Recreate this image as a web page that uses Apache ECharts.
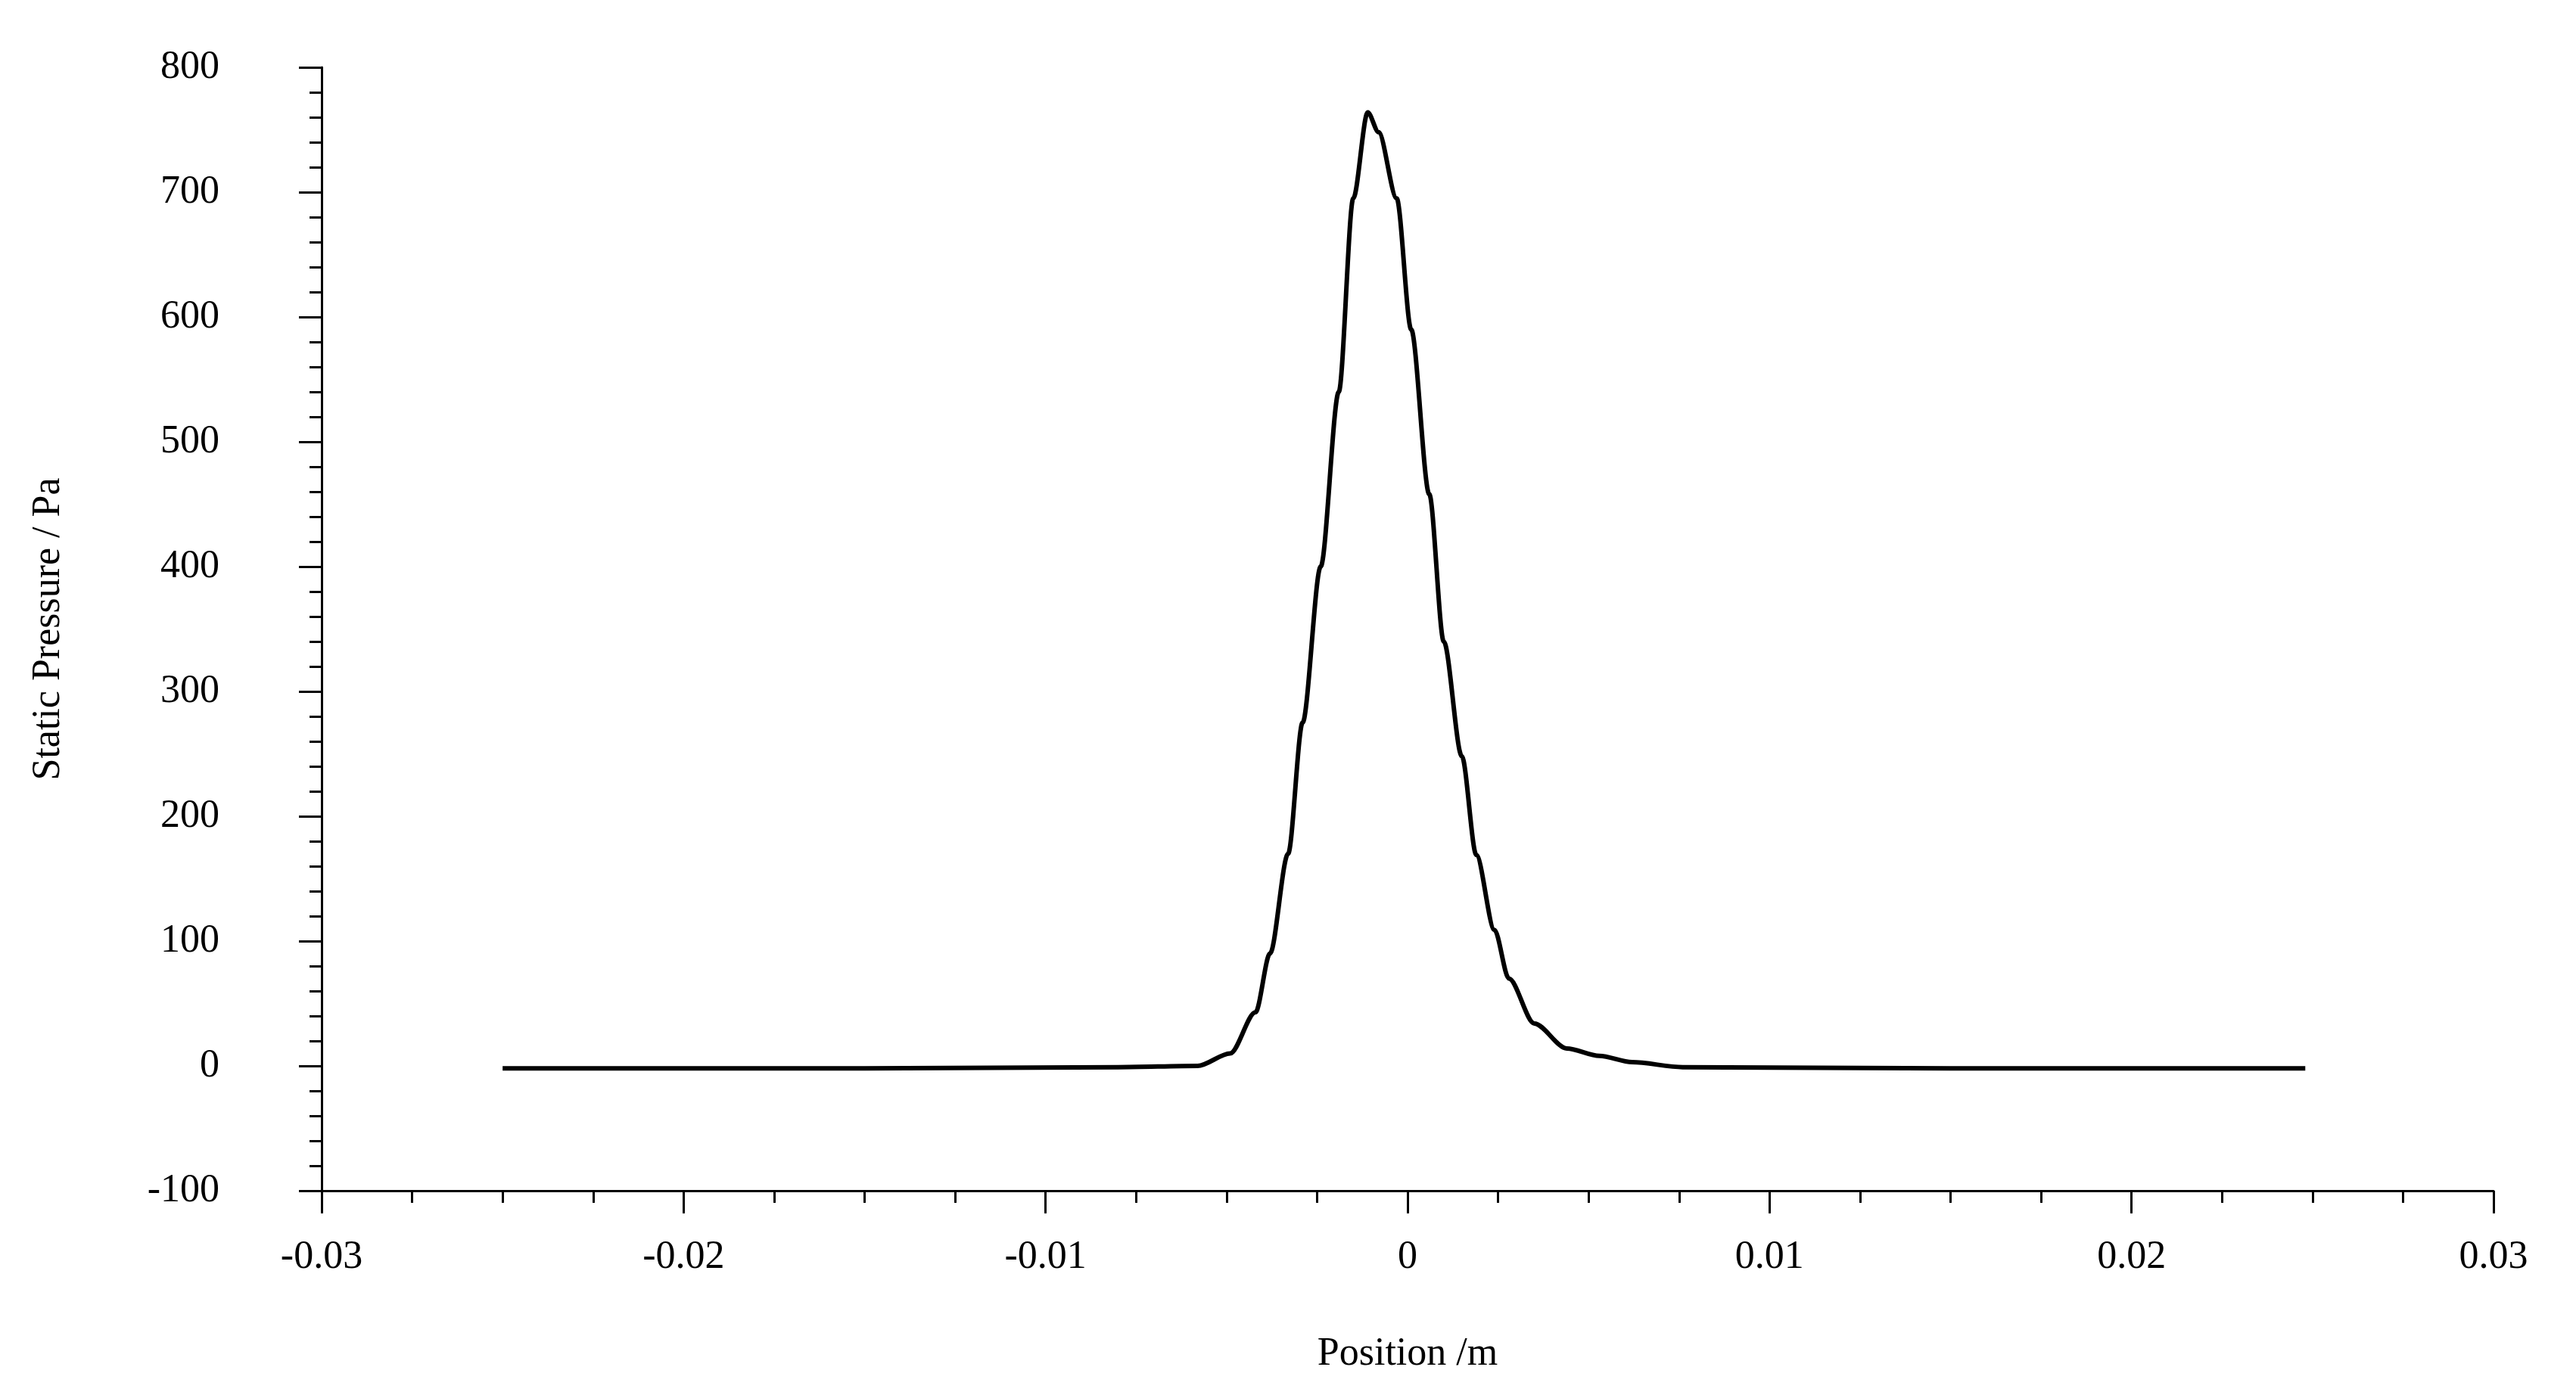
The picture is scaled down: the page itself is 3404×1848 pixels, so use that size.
<!DOCTYPE html>
<html>
<head>
<meta charset="utf-8">
<script src="https://cdn.jsdelivr.net/npm/echarts@6/dist/echarts.min.js"></script>
<style>html,body{margin:0;padding:0;background:#fff}#chart{width:3404px;height:1848px}</style>
</head>
<body>
<div id="chart"></div>
<script>
var positions = [-0.025, -0.015, -0.008, -0.0058, -0.0049, -0.0042, -0.0038, -0.0033, -0.0029, -0.0024,
    -0.0019, -0.0015, -0.0011, -0.0008, -0.0003, 0.0001, 0.0006, 0.001, 0.0015, 0.0019,
    0.0024, 0.0028, 0.0035, 0.0044, 0.0053, 0.0062, 0.0076, 0.015, 0.0248];
var pressures = [-2, -2, -1, 0, 10, 43, 90, 170, 275, 400,
    540, 695, 764, 748, 695, 590, 458, 340, 248, 169,
    109, 70, 34, 14, 8, 3, -1, -2, -2];

var myChart = echarts.init(document.getElementById('chart'));
var font = 'Liberation Serif';
var black = '#000';

myChart.setOption({
    backgroundColor: '#fff',
    animation: false,
    grid: {left: 425, right: 109, top: 89, bottom: 274},
    xAxis: {
        type: 'value',
        min: -0.03,
        max: 0.03,
        interval: 0.01,
        name: 'Position /m',
        nameLocation: 'middle',
        nameGap: 190,
        nameTextStyle: {fontFamily: font, fontSize: 52, color: black},
        axisLine: {onZero: false, lineStyle: {color: black, width: 3}},
        axisTick: {length: 30, lineStyle: {color: black, width: 3}},
        minorTick: {show: true, splitNumber: 4, length: 16, lineStyle: {color: black, width: 3}},
        splitLine: {show: false},
        axisLabel: {
            fontFamily: font, fontSize: 52, color: black, margin: 62,
            formatter: function (v) { return v === 0 ? '0' : String(+v.toFixed(2)); }
        }
    },
    yAxis: {
        type: 'value',
        min: -100,
        max: 800,
        interval: 100,
        name: 'Static Pressure / Pa',
        nameLocation: 'middle',
        nameGap: 335,
        nameTextStyle: {fontFamily: font, fontSize: 52, color: black},
        axisLine: {show: true, onZero: false, lineStyle: {color: black, width: 3}},
        axisTick: {show: true, length: 30, lineStyle: {color: black, width: 3}},
        minorTick: {show: true, splitNumber: 5, length: 16, lineStyle: {color: black, width: 3}},
        splitLine: {show: false},
        axisLabel: {fontFamily: font, fontSize: 52, color: black, margin: 135}
    },
    series: [{
        type: 'line',
        data: positions.map(function (x, i) { return [x, pressures[i]]; }),
        smooth: 0.3,
        smoothMonotone: 'x',
        showSymbol: false,
        lineStyle: {color: black, width: 6}
    }]
});
</script>
</body>
</html>
